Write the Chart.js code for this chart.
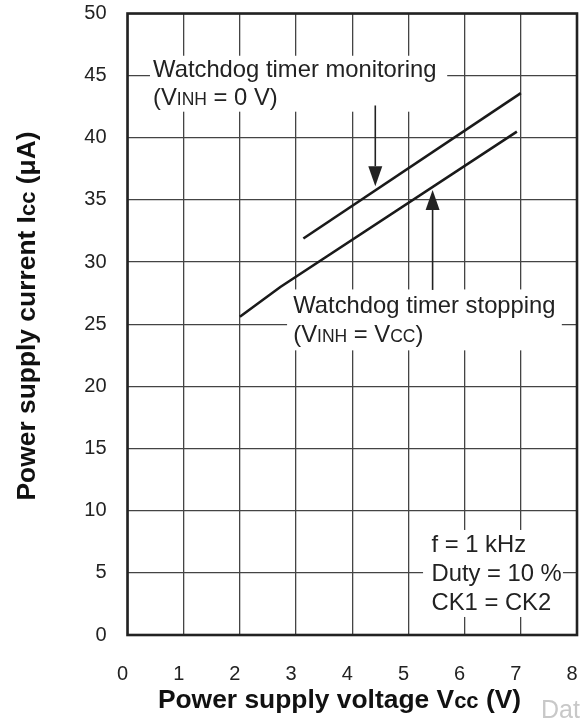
<!DOCTYPE html>
<html>
<head>
<meta charset="utf-8">
<script src="https://cdn.jsdelivr.net/npm/chart.js@4.4.1/dist/chart.umd.min.js"></script>
<style>
  html, body { margin: 0; padding: 0; background: #fff; }
  #wrap { width: 580px; height: 718px; position: relative; }
</style>
</head>
<body>
<div id="wrap"><canvas id="c" width="580" height="718"></canvas></div>
<script>
// ---- data ----
const xTickValues = [0, 1, 2, 3, 4, 5, 6, 7, 8];
const yTickValues = [0, 5, 10, 15, 20, 25, 30, 35, 40, 45, 50];
const monitoringVcc = [3.13, 7.0];
const monitoringIcc = [31.9, 43.6];
const stoppingVcc = [2.0, 2.72, 6.93];
const stoppingIcc = [25.6, 28.0, 40.5];
const conditionLines = ['f = 1 kHz', 'Duty = 10 %', 'CK1 = CK2'];

const FONT = '"Liberation Sans", Arial, Helvetica, sans-serif';
const INK = '#222';

function toPoints(xs, ys) { return xs.map((v, i) => ({ x: v, y: ys[i] })); }

// rich text: segments [{t, s, b}] drawn left aligned on a baseline
function richWidth(ctx, segs) {
  let w = 0;
  segs.forEach(g => { ctx.font = (g.b ? 'bold ' : '') + g.s + 'px ' + FONT; w += ctx.measureText(g.t).width; });
  return w;
}
function drawRich(ctx, segs, x, y) {
  segs.forEach(g => {
    ctx.font = (g.b ? 'bold ' : '') + g.s + 'px ' + FONT;
    ctx.fillText(g.t, x, y);
    x += ctx.measureText(g.t).width;
  });
}

// white masks behind annotation text (in data units)
const masks = [
  [0.40, 5.69, 46.6, 42.1],
  [2.84, 7.73, 27.8, 22.9],
  [5.26, 7.75, 8.45, 1.45]
];

const annotPlugin = {
  id: 'annot',
  beforeDatasetsDraw(chart) {
    const { ctx, chartArea: a, scales: { x, y } } = chart;
    ctx.save();
    ctx.fillStyle = '#fff';
    masks.forEach(m => {
      const x0 = x.getPixelForValue(m[0]), x1 = x.getPixelForValue(m[1]);
      const y0 = y.getPixelForValue(m[2]), y1 = y.getPixelForValue(m[3]);
      ctx.fillRect(x0, y0, x1 - x0, y1 - y0);
    });
    ctx.strokeStyle = INK;
    ctx.lineWidth = 2.6;
    ctx.strokeRect(a.left, a.top, a.right - a.left, a.bottom - a.top);
    ctx.restore();
  },
  afterDraw(chart) {
    const { ctx, scales: { x, y } } = chart;
    ctx.save();
    ctx.fillStyle = INK;
    ctx.textBaseline = 'alphabetic';
    ctx.textAlign = 'left';
    const S = 23.8, s = 17.5;
    // top annotation
    drawRich(ctx, [{ t: 'Watchdog timer monitoring', s: S }], x.getPixelForValue(0.455), y.getPixelForValue(44.9));
    drawRich(ctx, [{ t: '(V', s: S }, { t: 'INH', s: s }, { t: ' = 0 V)', s: S }], x.getPixelForValue(0.455), y.getPixelForValue(42.64));
    // lower annotation
    drawRich(ctx, [{ t: 'Watchdog timer stopping', s: S }], x.getPixelForValue(2.95), y.getPixelForValue(25.9));
    drawRich(ctx, [{ t: '(V', s: S }, { t: 'INH', s: s }, { t: ' = V', s: S }, { t: 'CC', s: s }, { t: ')', s: S }], x.getPixelForValue(2.95), y.getPixelForValue(23.57));
    // conditions
    const condY = [6.70, 4.34, 2.01];
    conditionLines.forEach((t, i) => drawRich(ctx, [{ t: t, s: S }], x.getPixelForValue(5.41), y.getPixelForValue(condY[i])));

    // arrows
    function arrow(xv, fromY, tipY) {
      const px = x.getPixelForValue(xv);
      const p0 = y.getPixelForValue(fromY), p1 = y.getPixelForValue(tipY);
      const dir = Math.sign(p1 - p0);
      const head = 20, half = 7;
      ctx.strokeStyle = INK; ctx.lineWidth = 1.6;
      ctx.beginPath(); ctx.moveTo(px, p0); ctx.lineTo(px, p1 - dir * head); ctx.stroke();
      ctx.beginPath(); ctx.moveTo(px, p1); ctx.lineTo(px - half, p1 - dir * head); ctx.lineTo(px + half, p1 - dir * head); ctx.closePath(); ctx.fill();
    }
    arrow(4.41, 42.6, 36.1);
    arrow(5.43, 27.76, 35.8);

    // axis titles
    const T = 26.4, t = 22;
    const xt = [{ t: 'Power supply voltage V', s: T, b: true }, { t: 'cc', s: t, b: true }, { t: ' (V)', s: T, b: true }];
    const xw = richWidth(ctx, xt);
    ctx.fillStyle = '#111';
    drawRich(ctx, xt, 339.5 - xw / 2, 708);
    const yt = [{ t: 'Power supply current I', s: T, b: true }, { t: 'cc', s: t, b: true }, { t: ' (\u03bcA)', s: T, b: true }];
    const yw = richWidth(ctx, yt);
    ctx.save();
    ctx.translate(35, 316);
    ctx.rotate(-Math.PI / 2);
    drawRich(ctx, yt, -yw / 2, 0);
    ctx.restore();
    // watermark
    ctx.fillStyle = '#c8c8c8';
    ctx.font = '25px ' + FONT;
    ctx.fillText('Data Sheet', 541, 718);
    ctx.restore();
  }
};

const tickFont = { family: FONT, size: 20 };

new Chart(document.getElementById('c'), {
  type: 'scatter',
  data: {
    datasets: [
      { label: 'Watchdog timer monitoring (VINH = 0 V)', data: toPoints(monitoringVcc, monitoringIcc), showLine: true, borderColor: '#1a1a1a', borderWidth: 2.6, pointRadius: 0, tension: 0, fill: false },
      { label: 'Watchdog timer stopping (VINH = VCC)', data: toPoints(stoppingVcc, stoppingIcc), showLine: true, borderColor: '#1a1a1a', borderWidth: 2.6, pointRadius: 0, tension: 0, fill: false }
    ]
  },
  options: {
    responsive: false,
    animation: false,
    devicePixelRatio: 1,
    layout: { padding: { left: 0, right: 3, top: 13.5, bottom: 0 } },
    plugins: { legend: { display: false }, tooltip: { enabled: false } },
    scales: {
      x: {
        type: 'linear', min: 0, max: 8,
        afterBuildTicks: sc => { sc.ticks = xTickValues.map(v => ({ value: v })); },
        afterFit: sc => { sc.height = 83; sc.paddingLeft = 0; sc.paddingRight = 0; },
        ticks: { font: tickFont, color: INK, padding: 27, labelOffset: -5, maxRotation: 0, autoSkip: false },
        grid: { color: '#444', lineWidth: 1.3, drawTicks: false },
        border: { display: false }
      },
      y: {
        type: 'linear', min: 0, max: 50,
        afterBuildTicks: sc => { sc.ticks = yTickValues.map(v => ({ value: v })); },
        afterFit: sc => { sc.width = 127.5; sc.paddingTop = 0; sc.paddingBottom = 0; },
        ticks: { font: tickFont, color: INK, padding: 21, autoSkip: false },
        grid: { color: '#444', lineWidth: 1.3, drawTicks: false },
        border: { display: false }
      }
    }
  },
  plugins: [annotPlugin]
});
</script>
</body>
</html>
